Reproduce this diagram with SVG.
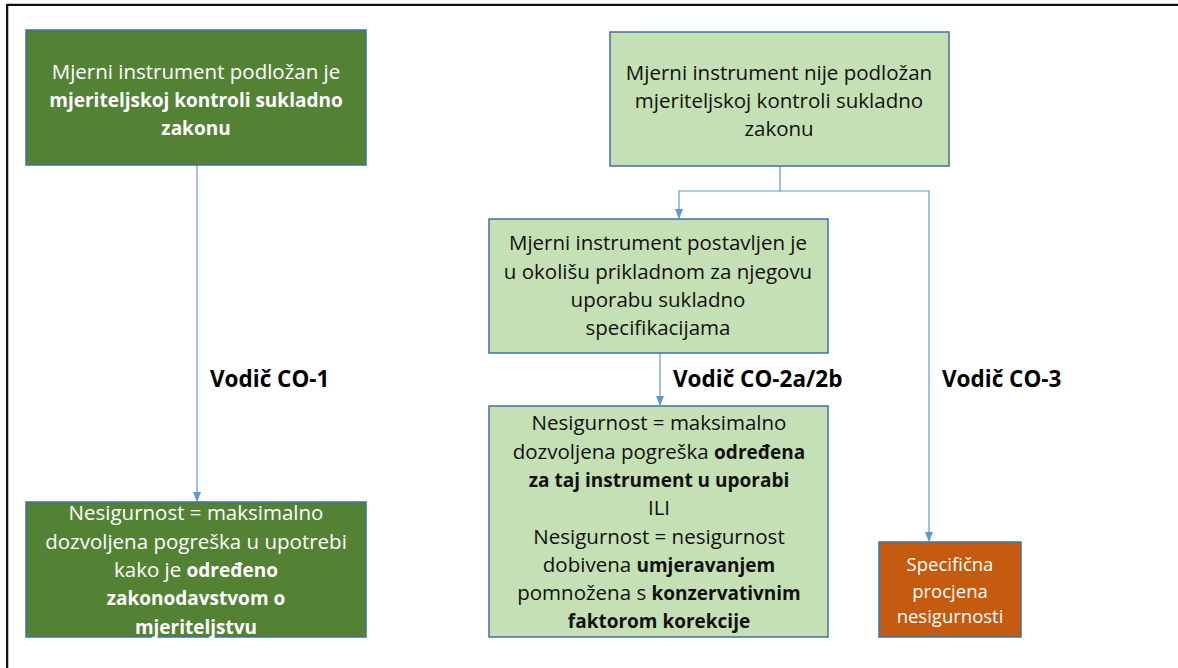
<svg xmlns="http://www.w3.org/2000/svg" width="1178" height="668" viewBox="0 0 1178 668">
<defs>
<marker id="arr" markerWidth="10" markerHeight="8" refX="9" refY="4" orient="auto" markerUnits="userSpaceOnUse">
<path d="M0,0 L10,4 L0,8 Z" fill="#5B9BD5"/>
</marker>
</defs>
<style>
.t{font-family:"Open Sans","Liberation Sans",Arial,sans-serif;font-size:20.5px;text-anchor:middle}
.w{fill:#ffffff}
.k{fill:#111111}
.b{font-weight:bold;font-size:19px}
.s{font-size:18.5px}
.lab{font-family:"Open Sans","Liberation Sans",Arial,sans-serif;font-size:22.5px;font-weight:bold;fill:#000}
.box{stroke:#41719C;stroke-width:1.5}
.con{stroke:#5B9BD5;stroke-width:1.2;fill:none}
</style>
<rect x="0" y="0" width="1178" height="668" fill="#ffffff"/>
<g id="frame">
<line x1="7" y1="3.5" x2="1178" y2="3.5" stroke="#c8c8c8" stroke-width="1"/>
<line x1="7" y1="5" x2="1178" y2="5" stroke="#111" stroke-width="2"/>
<line x1="7" y1="4" x2="7" y2="668" stroke="#111" stroke-width="2"/>
<line x1="8.5" y1="6" x2="8.5" y2="668" stroke="#bbb" stroke-width="1"/>
</g>
<g id="connectors">
<line class="con" x1="197" y1="165" x2="197" y2="501" marker-end="url(#arr)"/>
<polyline class="con" points="780,166 780,191 679,191 679,218" marker-end="url(#arr)"/>
<polyline class="con" points="780,191 929,191 929,541" marker-end="url(#arr)"/>
<line class="con" x1="660" y1="353" x2="660" y2="405" marker-end="url(#arr)"/>
</g>
<g id="node1">
<rect class="box" x="26" y="30" width="340" height="135" fill="#548235"/>
<text class="t w" x="196" y="79">Mjerni instrument podložan je</text>
<text class="t w b" x="196" y="107">mjeriteljskoj kontroli sukladno</text>
<text class="t w b" x="196" y="135">zakonu</text>
</g>
<g id="node2">
<rect class="box" x="610" y="32" width="339" height="134" fill="#C5E0B4"/>
<text class="t k" x="779" y="80">Mjerni instrument nije podložan</text>
<text class="t k" x="779" y="108">mjeriteljskoj kontroli sukladno</text>
<text class="t k" x="779" y="136">zakonu</text>
</g>
<g id="node3">
<rect class="box" x="489" y="219" width="339" height="134" fill="#C5E0B4"/>
<text class="t k" x="658" y="250">Mjerni instrument postavljen je</text>
<text class="t k" x="658" y="279">u okolišu prikladnom za njegovu</text>
<text class="t k" x="658" y="307">uporabu sukladno</text>
<text class="t k" x="658" y="335">specifikacijama</text>
</g>
<g id="node4">
<rect class="box" x="26" y="502" width="340" height="135" fill="#548235"/>
<text class="t w" x="196" y="520">Nesigurnost = maksimalno</text>
<text class="t w" x="196" y="549">dozvoljena pogreška u upotrebi</text>
<text class="t w" x="196" y="577">kako je <tspan class="b">određeno</tspan></text>
<text class="t w b" x="196" y="605">zakonodavstvom o</text>
<text class="t w b" x="196" y="634">mjeriteljstvu</text>
</g>
<g id="node5">
<rect class="box" x="489" y="406" width="339" height="231" fill="#C5E0B4"/>
<text class="t k" x="659" y="430">Nesigurnost = maksimalno</text>
<text class="t k" x="659" y="459">dozvoljena pogreška <tspan class="b">određena</tspan></text>
<text class="t k b" x="659" y="487">za taj instrument u uporabi</text>
<text class="t k" x="659" y="515">ILI</text>
<text class="t k" x="659" y="544">Nesigurnost = nesigurnost</text>
<text class="t k" x="659" y="572">dobivena <tspan class="b">umjeravanjem</tspan></text>
<text class="t k" x="659" y="600">pomnožena s <tspan class="b">konzervativnim</tspan></text>
<text class="t k b" x="659" y="628">faktorom korekcije</text>
</g>
<g id="node6">
<rect class="box" x="879" y="542" width="142" height="95" fill="#C55A11"/>
<text class="t w s" x="950" y="571">Specifična</text>
<text class="t w s" x="950" y="598">procjena</text>
<text class="t w s" x="950" y="623">nesigurnosti</text>
</g>
<g id="labels">
<text class="lab" x="210" y="387">Vodič CO-1</text>
<text class="lab" x="673" y="387">Vodič CO-2a/2b</text>
<text class="lab" x="942" y="387">Vodič CO-3</text>
</g>
</svg>
